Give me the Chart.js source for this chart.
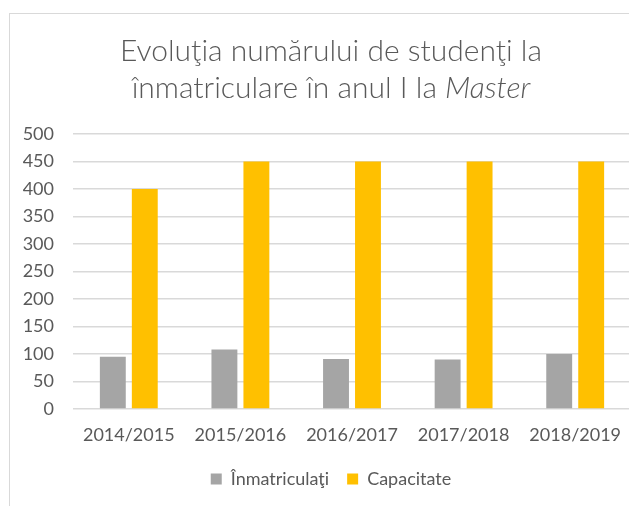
<!DOCTYPE html>
<html>
<head>
<meta charset="utf-8">
<script src="https://cdn.jsdelivr.net/npm/chart.js@4"></script>
<style>
  html, body { margin: 0; padding: 0; background: #fff; overflow: hidden; }
  body { width: 629px; height: 506px; position: relative; }
  .box {
    position: absolute; left: 9px; top: 13px;
    width: 642px; height: 500px;
    border: 1px solid #d9d9d9;
  }
</style>
</head>
<body>
<div class="box"><canvas id="chart"></canvas></div>
<script>
const categories = ['2014/2015', '2015/2016', '2016/2017', '2017/2018', '2018/2019'];
const inmatriculati = [95, 108, 91, 90, 100];
const capacitate = [400, 450, 450, 450, 450];
const yMax = 500;
const yStep = 50;

const textColor = '#595959';
const fontFamily = 'Lato, "Liberation Sans", sans-serif';

// title has an italic word, so it is drawn by hand
const titlePlugin = {
  id: 'mixedTitle',
  afterDraw(chart) {
    const ctx = chart.ctx;
    const cx = chart.width / 2;
    ctx.save();
    ctx.fillStyle = textColor;
    ctx.textBaseline = 'middle';
    ctx.textAlign = 'left';
    const normal = '300 30px ' + fontFamily;
    const italic = 'italic 300 30px ' + fontFamily;

    ctx.font = normal;
    const line1 = 'Evoluţia numărului de studenţi la';
    let w = ctx.measureText(line1).width;
    ctx.fillText(line1, cx - w / 2, 37);

    const part1 = 'înmatriculare în anul I la ';
    const part2 = 'Master';
    const w1 = ctx.measureText(part1).width;
    ctx.font = italic;
    const w2 = ctx.measureText(part2).width;
    const x0 = cx - (w1 + w2) / 2;
    ctx.font = normal;
    ctx.fillText(part1, x0, 74);
    ctx.font = italic;
    ctx.fillText(part2, x0 + w1, 74);
    ctx.restore();
  }
};

new Chart(document.getElementById('chart').getContext('2d'), {
  type: 'bar',
  data: {
    labels: categories,
    datasets: [
      {
        label: 'Înmatriculaţi',
        backgroundColor: '#a5a5a5',
        data: inmatriculati
      },
      {
        label: 'Capacitate',
        backgroundColor: '#ffc000',
        data: capacitate
      }
    ]
  },
  options: {
    responsive: true,
    maintainAspectRatio: false,
    animation: false,
    barPercentage: 0.81,
    categoryPercentage: 0.573,
    layout: {
      padding: { top: 120, right: 0, bottom: 16, left: 0 }
    },
    plugins: {
      title: { display: false },
      tooltip: { enabled: false },
      legend: {
        position: 'bottom',
        labels: {
          color: textColor,
          font: { family: fontFamily, size: 18 },
          boxWidth: 11,
          boxHeight: 11,
          padding: 18
        }
      }
    },
    scales: {
      x: {
        afterFit(scale) { scale.height = 43; },
        grid: { display: false, drawTicks: false },
        border: { display: false },
        ticks: {
          color: textColor,
          font: { family: fontFamily, size: 18 },
          padding: 15
        }
      },
      y: {
        min: 0,
        max: yMax,
        afterFit(scale) { scale.width = 63; },
        border: { display: false },
        grid: { color: '#d9d9d9', lineWidth: 1.5, drawTicks: false },
        ticks: {
          stepSize: yStep,
          color: textColor,
          font: { family: fontFamily, size: 18 },
          padding: 19
        }
      },
      // empty spacer on the right so the legend stays centred on the whole box
      spacer: {
        type: 'linear',
        position: 'right',
        afterFit(scale) { scale.width = 21; },
        grid: { display: false },
        border: { display: false },
        ticks: { display: false }
      }
    }
  },
  plugins: [titlePlugin]
});
</script>
</body>
</html>
